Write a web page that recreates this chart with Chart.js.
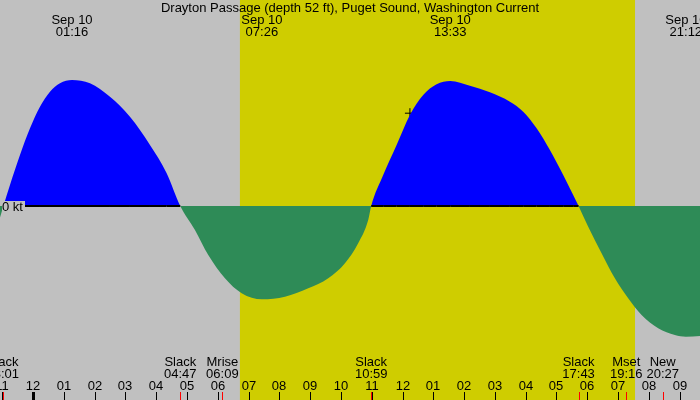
<!DOCTYPE html>
<html lang="en">
<head>
  <meta charset="UTF-8" />
  <title>Drayton Passage Current</title>
  <script src="https://cdn.jsdelivr.net/npm/chart.js"></script>
  <style>
    html, body { margin: 0; padding: 0; background: #c0c0c0; }
    #chart { display: block; }
  </style>
</head>
<body>
  <canvas id="chart" width="700" height="400"></canvas>
  <script>
    // hours from midnight Sep 10 (negative = Sep 9), current in knots (+ flood, - ebb)
    const curveHours = [-1.071, -0.96, -0.747, -0.422, -0.097, 0.227, 0.552, 0.877, 1.267, 1.851, 2.5, 3.149, 3.799, 4.341, 4.783,
      5.26, 5.692, 6.234, 6.776, 7.433, 8.182, 8.938, 9.588, 10.13, 10.56, 10.886, 10.983,
      11.373, 11.808, 12.24, 12.672, 13.107, 13.55, 14.188, 14.838, 15.487, 15.919, 16.354, 16.786, 17.218, 17.542, 17.717,
      18.03, 18.464, 18.896, 19.328, 19.763, 20.302, 20.844, 21.2, 21.66];
    const curveKnots = [-0.144, 0, 0.263, 0.638, 0.971, 1.241, 1.429, 1.534, 1.575, 1.534, 1.366, 1.116, 0.763, 0.409, 0,
      -0.3, -0.613, -0.904, -1.091, -1.166, -1.134, -1.029, -0.904, -0.716, -0.466, -0.175, 0,
      0.388, 0.763, 1.138, 1.388, 1.521, 1.563, 1.504, 1.421, 1.304, 1.179, 0.971, 0.7, 0.388, 0.138, 0,
      -0.259, -0.591, -0.904, -1.154, -1.363, -1.529, -1.613, -1.634, -1.625];

    const peakHours = [1.267, 7.433, 13.55, 21.2];
    const peakLabels = ['01:16', '07:26', '13:33', '21:12'];

    const eventHours = [-0.983, 4.783, 6.15, 10.983, 17.717, 19.267, 20.45];
    const eventNames = ['Slack', 'Slack', 'Mrise', 'Slack', 'Slack', 'Mset', 'New'];
    const eventTimes = ['23:01', '04:47', '06:09', '10:59', '17:43', '19:16', '20:27'];

    const tickHours = [-1, 0, 1, 2, 3, 4, 5, 6, 7, 8, 9, 10, 11, 12, 13, 14, 15, 16, 17, 18, 19, 20, 21];
    const tickLabels = ['11', '12', '01', '02', '03', '04', '05', '06', '07', '08', '09', '10',
      '11', '12', '01', '02', '03', '04', '05', '06', '07', '08', '09'];

    const sunrise = 6.72, sunset = 19.55;
    const markerHour = 12.24, markerKnots = 1.16;

    const FONT = '13px "Liberation Sans", Arial, sans-serif';

    const decor = {
      id: 'decor',
      beforeDatasetsDraw(chart) {
        const { ctx, scales: { x } } = chart;
        ctx.save();
        ctx.fillStyle = '#cfcd00';
        ctx.fillRect(x.getPixelForValue(sunrise), 0, x.getPixelForValue(sunset) - x.getPixelForValue(sunrise), 400);
        ctx.restore();
      },
      afterDatasetsDraw(chart) {
        const { ctx, scales: { x, y } } = chart;
        const y0 = Math.round(y.getPixelForValue(0));
        ctx.save();
        // zero line only under the flood part
        ctx.fillStyle = '#000';
        for (let i = 0; i < curveHours.length - 1; i++) {
          if (curveKnots[i] >= 0 && curveKnots[i + 1] >= 0 && (curveKnots[i] > 0 || curveKnots[i + 1] > 0)) {
            const a = Math.max(26, x.getPixelForValue(curveHours[i]));
            const b = x.getPixelForValue(curveHours[i + 1]);
            ctx.fillRect(a, y0 - 1, b - a, 2);
          }
        }
        ctx.font = FONT;
        ctx.fillStyle = '#c0c0c0';
        ctx.fillRect(2, 201, 23, 11);
        ctx.fillStyle = '#000';
        ctx.textAlign = 'left';
        ctx.textBaseline = 'alphabetic';
        ctx.fillText('0 kt', 2, 211);

        ctx.textAlign = 'center';
        ctx.fillText('Drayton Passage (depth 52 ft), Puget Sound, Washington Current', 350, 12);
        peakHours.forEach((h, i) => {
          const px = x.getPixelForValue(h);
          ctx.fillText('Sep 10', px, 24);
          ctx.fillText(peakLabels[i], px, 36);
        });
        eventHours.forEach((h, i) => {
          const px = x.getPixelForValue(h);
          ctx.fillText(eventNames[i], px, 366);
          ctx.fillText(eventTimes[i], px, 378);
        });
        tickHours.forEach((h, i) => {
          const px = Math.round(x.getPixelForValue(h));
          ctx.fillStyle = '#000';
          ctx.fillText(tickLabels[i], px, 390);
          if (h === 0) ctx.fillRect(px - 1, 392, 3, 8);
          else ctx.fillRect(px, 392, 1, 8);
        });
        ctx.fillStyle = '#ff0000';
        eventHours.forEach(h => {
          ctx.fillRect(Math.round(x.getPixelForValue(h)), 392, 1, 8);
        });
        ctx.restore();
      }
    };

    new Chart(document.getElementById('chart').getContext('2d'), {
      type: 'line',
      data: {
        datasets: [
          {
            data: curveHours.map((h, i) => ({ x: h, y: curveKnots[i] })),
            borderColor: 'rgba(0,0,0,0)',
            borderWidth: 0,
            pointRadius: 0,
            cubicInterpolationMode: 'monotone',
            fill: { target: 'origin', above: '#0000ff', below: '#2e8b57' }
          },
          {
            data: [{ x: markerHour, y: markerKnots }],
            showLine: false,
            pointStyle: 'cross',
            pointRadius: 5,
            borderColor: '#000',
            borderWidth: 1,
            fill: false
          }
        ]
      },
      options: {
        responsive: false,
        animation: false,
        devicePixelRatio: 1,
        layout: { padding: 0, autoPadding: false },
        plugins: { legend: { display: false }, tooltip: { enabled: false } },
        scales: {
          x: { type: 'linear', display: false, min: -1.071, max: 21.66 },
          y: { display: false, min: -2.425, max: 2.575 }
        }
      },
      plugins: [decor]
    });
  </script>
</body>
</html>
